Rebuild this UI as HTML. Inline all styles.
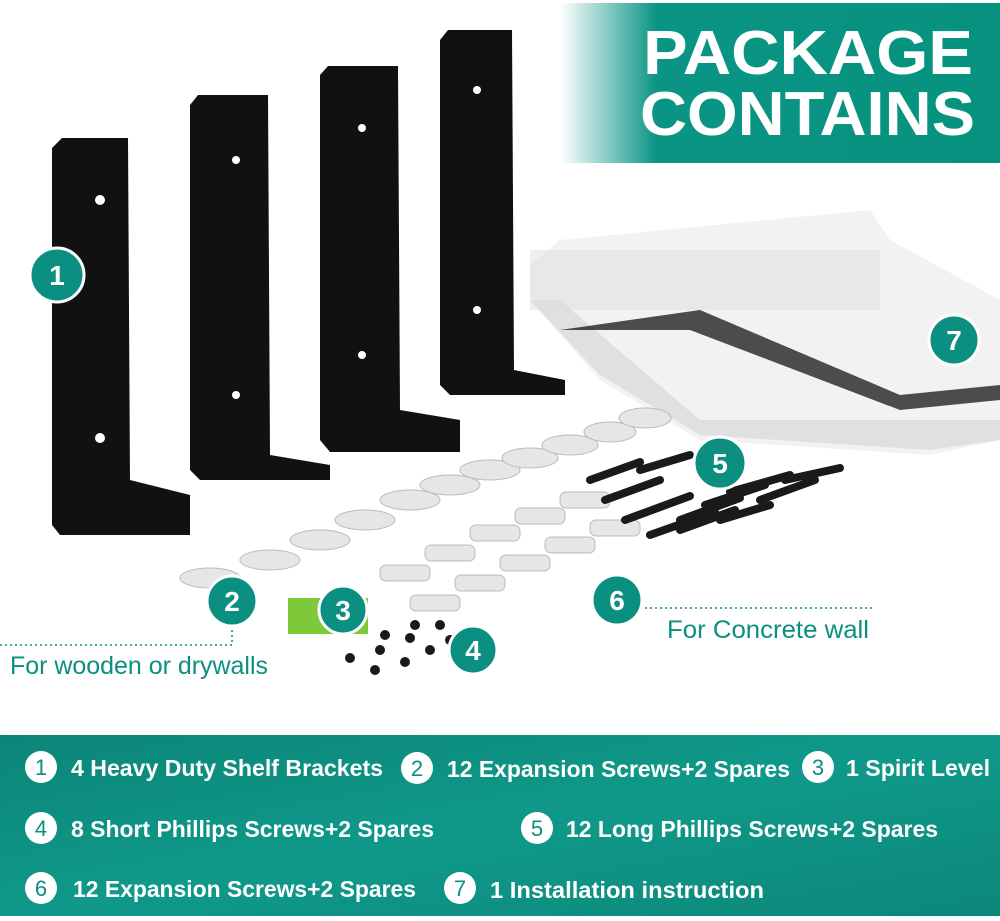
<!DOCTYPE html>
<html><head><style>
body{margin:0;width:1000px;height:916px;overflow:hidden;background:#fff;font-family:"Liberation Sans",sans-serif}
</style></head><body>
<svg width="1000" height="916" viewBox="0 0 1000 916" xmlns="http://www.w3.org/2000/svg" font-family="Liberation Sans, sans-serif">
<defs>
<linearGradient id="bn" x1="0" x2="1"><stop offset="0" stop-color="#0a9484" stop-opacity="0"/><stop offset="0.22" stop-color="#0a9484"/><stop offset="1" stop-color="#07927f"/></linearGradient>
<linearGradient id="bt" x1="0" x2="1" y1="0" y2="1"><stop offset="0" stop-color="#0b8577"/><stop offset="0.5" stop-color="#0f998a"/><stop offset="1" stop-color="#0c8779"/></linearGradient>
</defs>
<rect x="560" y="3" width="440" height="160" fill="url(#bn)"/>
<text x="643" y="74" fill="#fff" font-size="62" font-weight="bold" textLength="330" lengthAdjust="spacingAndGlyphs">PACKAGE</text>
<text x="640" y="135" fill="#fff" font-size="62" font-weight="bold" textLength="335" lengthAdjust="spacingAndGlyphs">CONTAINS</text>
<polygon points="530,265 560,240 870,210 890,240 1000,300 1000,440 930,455 700,440 600,380 530,300" fill="#f2f2f2"/>
<polygon points="530,300 600,375 700,435 930,450 1000,440 1000,420 700,420 560,300" fill="#e0e0e0"/>
<polygon points="560,330 690,330 900,410 1000,400 1000,385 900,395 700,310" fill="#222" opacity="0.8"/>
<rect x="530" y="250" width="350" height="60" fill="#ddd" opacity="0.5"/>
<g fill="#111">
<polygon points="52,148 62,138 128,138 130,480 190,495 190,535 60,535 52,525"/>
<polygon points="190,105 198,95 268,95 270,455 330,465 330,480 200,480 190,470"/>
<polygon points="320,75 328,66 398,66 400,410 460,420 460,452 330,452 320,440"/>
<polygon points="440,40 448,30 512,30 514,370 565,380 565,395 450,395 440,385"/>
</g>
<g fill="#fff"><circle cx="100" cy="200" r="5"/><circle cx="100" cy="438" r="5"/><circle cx="236" cy="160" r="4"/><circle cx="236" cy="395" r="4"/><circle cx="362" cy="128" r="4"/><circle cx="362" cy="355" r="4"/><circle cx="477" cy="90" r="4"/><circle cx="477" cy="310" r="4"/></g>
<g fill="#e4e6e8" stroke="#bbb" stroke-width="1">
<ellipse cx="210" cy="578" rx="30" ry="10"/><ellipse cx="270" cy="560" rx="30" ry="10"/><ellipse cx="320" cy="540" rx="30" ry="10"/><ellipse cx="365" cy="520" rx="30" ry="10"/><ellipse cx="410" cy="500" rx="30" ry="10"/><ellipse cx="450" cy="485" rx="30" ry="10"/><ellipse cx="490" cy="470" rx="30" ry="10"/><ellipse cx="530" cy="458" rx="28" ry="10"/><ellipse cx="570" cy="445" rx="28" ry="10"/><ellipse cx="610" cy="432" rx="26" ry="10"/><ellipse cx="645" cy="418" rx="26" ry="10"/>
<rect x="380" y="565" width="50" height="16" rx="6"/><rect x="425" y="545" width="50" height="16" rx="6"/><rect x="470" y="525" width="50" height="16" rx="6"/><rect x="515" y="508" width="50" height="16" rx="6"/><rect x="560" y="492" width="50" height="16" rx="6"/>
<rect x="410" y="595" width="50" height="16" rx="6"/><rect x="455" y="575" width="50" height="16" rx="6"/><rect x="500" y="555" width="50" height="16" rx="6"/><rect x="545" y="537" width="50" height="16" rx="6"/><rect x="590" y="520" width="50" height="16" rx="6"/>
</g>
<g stroke="#1a1a1a" stroke-width="8" stroke-linecap="round">
<line x1="605" y1="500" x2="660" y2="480"/><line x1="625" y1="520" x2="690" y2="496"/><line x1="650" y1="535" x2="715" y2="512"/>
<line x1="680" y1="520" x2="740" y2="498"/><line x1="705" y1="505" x2="765" y2="485"/><line x1="730" y1="492" x2="790" y2="475"/><line x1="760" y1="500" x2="815" y2="480"/><line x1="785" y1="480" x2="840" y2="468"/>
<line x1="590" y1="480" x2="640" y2="462"/><line x1="640" y1="470" x2="690" y2="455"/><line x1="680" y1="530" x2="735" y2="510"/><line x1="720" y1="520" x2="770" y2="505"/>
</g>
<rect x="288" y="598" width="80" height="36" fill="#7ec93a"/>
<g fill="#1a1a1a"><circle cx="350" cy="658" r="5"/><circle cx="380" cy="650" r="5"/><circle cx="410" cy="638" r="5"/><circle cx="440" cy="625" r="5"/><circle cx="375" cy="670" r="5"/><circle cx="405" cy="662" r="5"/><circle cx="430" cy="650" r="5"/><circle cx="385" cy="635" r="5"/><circle cx="415" cy="625" r="5"/><circle cx="450" cy="640" r="5"/></g>
<g stroke="#0b8f80" stroke-width="1.5" stroke-dasharray="2,3" fill="none">
<polyline points="0,645 232,645 232,625"/><line x1="640" y1="608" x2="875" y2="608"/>
</g>
<g fill="#0b8f80" stroke="#fff" stroke-width="3">
<circle cx="57" cy="275" r="27"/><circle cx="232" cy="601" r="25"/><circle cx="343" cy="610" r="24"/><circle cx="473" cy="650" r="24"/><circle cx="720" cy="463" r="26"/><circle cx="617" cy="600" r="25"/><circle cx="954" cy="340" r="25"/>
</g>
<g fill="#fff" font-size="28" font-weight="bold" text-anchor="middle">
<text x="57" y="285">1</text><text x="232" y="611">2</text><text x="343" y="620">3</text><text x="473" y="660">4</text><text x="720" y="473">5</text><text x="617" y="610">6</text><text x="954" y="350">7</text>
</g>
<text x="10" y="674" fill="#0b8f80" font-size="25" textLength="258" lengthAdjust="spacingAndGlyphs">For wooden or drywalls</text>
<text x="667" y="638" fill="#0b8f80" font-size="25" textLength="202" lengthAdjust="spacingAndGlyphs">For Concrete wall</text>
<rect x="0" y="735" width="1000" height="181" fill="url(#bt)"/>
<g fill="#fff"><circle cx="41" cy="767" r="16"/><circle cx="417" cy="768" r="16"/><circle cx="818" cy="767" r="16"/><circle cx="41" cy="828" r="16"/><circle cx="537" cy="828" r="16"/><circle cx="41" cy="888" r="16"/><circle cx="460" cy="888" r="16"/></g>
<g fill="#0b8f80" font-size="22" text-anchor="middle">
<text x="41" y="775">1</text><text x="417" y="776">2</text><text x="818" y="775">3</text><text x="41" y="836">4</text><text x="537" y="836">5</text><text x="41" y="896">6</text><text x="460" y="896">7</text>
</g>
<g fill="#fff" font-size="23" font-weight="bold">
<text x="71" y="776" textLength="312" lengthAdjust="spacingAndGlyphs">4 Heavy Duty Shelf Brackets</text>
<text x="447" y="777" textLength="343" lengthAdjust="spacingAndGlyphs">12 Expansion Screws+2 Spares</text>
<text x="846" y="776" textLength="144" lengthAdjust="spacingAndGlyphs">1 Spirit Level</text>
<text x="71" y="837" textLength="363" lengthAdjust="spacingAndGlyphs">8 Short Phillips Screws+2 Spares</text>
<text x="566" y="837" textLength="372" lengthAdjust="spacingAndGlyphs">12 Long Phillips Screws+2 Spares</text>
<text x="73" y="897" textLength="343" lengthAdjust="spacingAndGlyphs">12 Expansion Screws+2 Spares</text>
<text x="490" y="898" textLength="274" lengthAdjust="spacingAndGlyphs">1 Installation instruction</text>
</g>
</svg>
</body></html>
